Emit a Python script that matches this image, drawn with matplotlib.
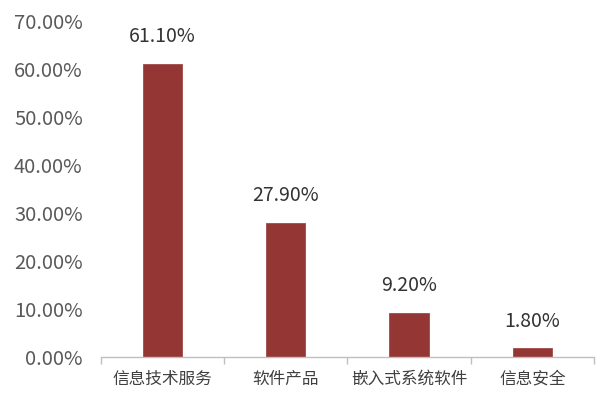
import matplotlib
matplotlib.use("Agg")
import matplotlib.pyplot as plt
import numpy as np

plt.rcParams['font.family'] = ['Noto Sans CJK SC', 'DejaVu Sans']

categories = ["信息技术服务", "软件产品", "嵌入式系统软件", "信息安全"]
values = [61.10, 27.90, 9.20, 1.80]
yticks = [0, 10, 20, 30, 40, 50, 60, 70]

fig = plt.figure(figsize=(6, 4), dpi=100)
ax = fig.add_axes([0.168, 0.1075, 0.822, 0.84])

x = np.arange(len(categories))
ax.bar(x, values, width=0.32, color="#943634", edgecolor="#a04a48", linewidth=0.6)

for xi, v in zip(x, values):
    ax.annotate(f"{v:.2f}%", (xi, v), xytext=(0, 12), textcoords="offset points",
                ha="center", va="bottom", fontsize=14, color="#333333")

ax.set_ylim(0, 70)
ax.set_xlim(-0.5, len(categories) - 0.5)
ax.set_yticks(yticks)
ax.set_yticklabels([f"{t:.2f}%" for t in yticks], fontsize=14.5, color="#595959")
ax.tick_params(axis="y", length=0, pad=13)

ax.set_xticks(np.arange(len(categories) + 1) - 0.5)
ax.set_xticklabels([])
ax.set_xticks(x, minor=True)
ax.set_xticklabels(categories, minor=True, fontsize=12, color="#404040")
ax.tick_params(axis="x", which="major", length=5, color="#bfbfbf", width=1)
ax.tick_params(axis="x", which="minor", length=0, pad=10)

for s in ["top", "right", "left"]:
    ax.spines[s].set_visible(False)
ax.spines["bottom"].set_color("#bfbfbf")
ax.spines["bottom"].set_linewidth(1)

fig.savefig("out.png", dpi=100)
